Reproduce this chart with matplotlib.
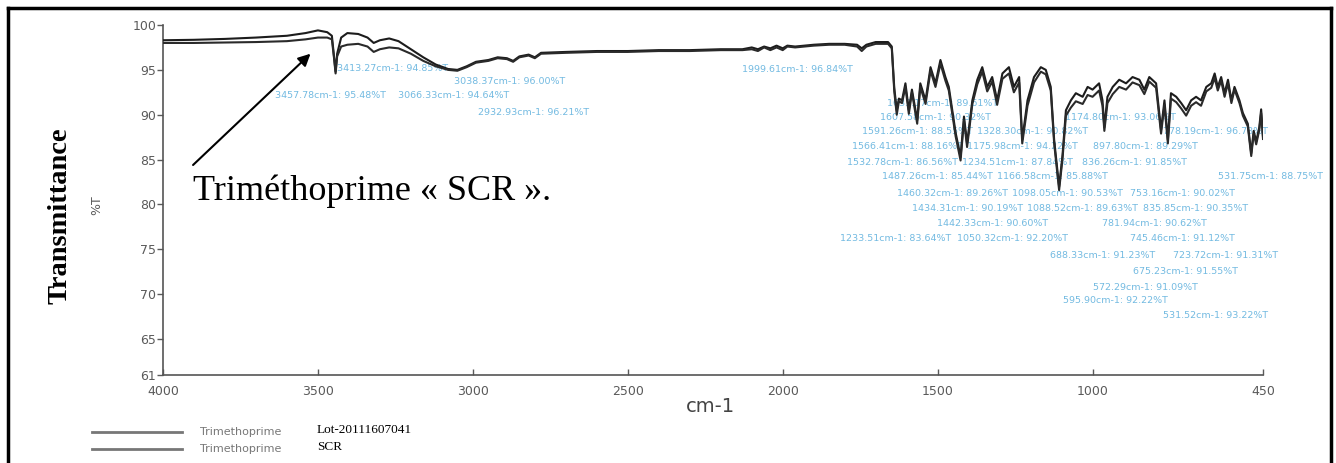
import matplotlib.pyplot as plt
from matplotlib.lines import Line2D

# IR spectra, wavenumber (cm-1) vs %T, both samples read at the same points
wavenumber = [
    4000, 3900, 3800, 3700, 3600, 3540, 3500, 3470, 3455, 3448, 3443, 3438,
    3425, 3405, 3370, 3340, 3320, 3300, 3270, 3240, 3200, 3160, 3120, 3080,
    3050, 3020, 2990, 2950, 2920, 2890, 2870, 2850, 2820, 2800, 2780, 2700,
    2600, 2500, 2400, 2300, 2200, 2130, 2100, 2080, 2060, 2040, 2020, 2000,
    1985, 1960, 1900, 1850, 1800, 1760, 1745, 1730, 1700, 1660, 1648, 1640,
    1632, 1625, 1615, 1604, 1593, 1583, 1566, 1556, 1539, 1523, 1507, 1491,
    1475, 1464, 1442, 1426, 1415, 1405, 1388, 1372, 1356, 1340, 1324, 1308,
    1291, 1270, 1254, 1237, 1227, 1210, 1189, 1167, 1151, 1135, 1124, 1108,
    1097, 1086, 1070, 1054, 1032, 1016, 1000, 979, 968, 962, 952, 935,
    914, 892, 871, 849, 833, 817, 795, 779, 768, 757, 747, 730,
    714, 698, 682, 666, 650, 633, 617, 606, 596, 585, 574, 563,
    552, 542, 526, 515, 499, 488, 480, 472, 462, 456, 450,
]
trans_lot = [
    98.3, 98.35, 98.45, 98.6, 98.8, 99.1, 99.4, 99.2, 98.8, 96.5, 94.8, 96.8,
    98.6, 99.1, 99.0, 98.6, 98.0, 98.3, 98.5, 98.2, 97.3, 96.4, 95.6, 95.1,
    95.0, 95.4, 95.9, 96.1, 96.4, 96.3, 96.0, 96.5, 96.7, 96.4, 96.9, 97.0,
    97.1, 97.1, 97.2, 97.2, 97.3, 97.3, 97.5, 97.3, 97.6, 97.4, 97.7, 97.4,
    97.7, 97.6, 97.8, 97.9, 97.9, 97.8, 97.4, 97.8, 98.1, 98.1, 97.6, 93.0,
    90.5, 91.8, 91.6, 93.5, 90.5, 92.8, 89.4, 93.5, 91.6, 95.3, 93.5, 96.1,
    94.2, 93.1, 88.0, 85.3, 89.8, 86.8, 91.6, 93.9, 95.3, 93.1, 94.2, 91.6,
    94.6, 95.3, 93.1, 94.2, 87.2, 91.6, 94.2, 95.3, 95.0, 93.1, 87.2, 82.0,
    85.5, 90.5, 91.6, 92.4, 92.0, 93.1, 92.8, 93.5, 91.6, 88.6, 92.0, 93.1,
    93.9, 93.5, 94.2, 93.9, 92.8, 94.2, 93.5, 88.3, 91.6, 87.2, 92.4, 92.0,
    91.3, 90.5, 91.6, 92.0, 91.6, 93.1, 93.5, 94.6, 93.1, 94.2, 92.4, 93.9,
    91.6, 93.1, 91.6, 90.2, 89.0, 85.7, 88.2, 87.0, 88.6, 90.6, 87.6,
]
trans_scr = [
    98.0, 98.0, 98.05, 98.1, 98.2, 98.4, 98.6, 98.6, 98.4, 96.3, 94.6, 96.5,
    97.6, 97.8, 97.9, 97.6, 97.0, 97.3, 97.5, 97.4, 96.8, 96.0, 95.4, 95.0,
    94.9, 95.3, 95.8, 96.0, 96.3, 96.2, 95.9, 96.4, 96.6, 96.3, 96.8, 96.9,
    97.0, 97.0, 97.1, 97.1, 97.2, 97.2, 97.3, 97.1, 97.5, 97.2, 97.5, 97.2,
    97.6, 97.5, 97.7, 97.8, 97.8, 97.6, 97.1, 97.6, 97.9, 97.9, 97.4, 92.6,
    90.0, 91.5, 91.3, 93.1, 90.1, 92.5, 89.0, 93.1, 91.2, 94.9, 93.1, 95.7,
    93.8, 92.7, 87.6, 84.9, 89.4, 86.4, 91.2, 93.4, 94.8, 92.6, 93.7, 91.1,
    94.0, 94.6, 92.5, 93.6, 86.8, 91.0, 93.6, 94.8, 94.5, 92.7, 86.8, 81.6,
    85.1, 89.9, 90.8, 91.5, 91.2, 92.2, 92.0, 92.7, 91.0, 88.2, 91.3, 92.3,
    93.1, 92.8, 93.6, 93.3, 92.3, 93.7, 93.0, 87.9, 91.1, 86.8, 91.8, 91.4,
    90.7, 89.9, 91.0, 91.4, 91.0, 92.6, 93.0, 94.1, 92.7, 93.8, 92.0, 93.5,
    91.3, 92.8, 91.3, 89.9, 88.7, 85.4, 87.9, 86.7, 88.3, 90.2, 87.3,
]

# peak-picking labels printed by the instrument software
peak_text = [
    "3413.27cm-1: 94.85%T", "3457.78cm-1: 95.48%T", "3066.33cm-1: 94.64%T",
    "3038.37cm-1: 96.00%T", "2932.93cm-1: 96.21%T", "1999.61cm-1: 96.84%T",
    "1633.17cm-1: 89.61%T", "1607.58cm-1: 90.32%T", "1174.80cm-1: 93.06%T",
    "1591.26cm-1: 88.55%T", "1328.30cm-1: 90.82%T", "778.19cm-1: 96.73%T",
    "1566.41cm-1: 88.16%T", "1175.98cm-1: 94.22%T", "897.80cm-1: 89.29%T",
    "1532.78cm-1: 86.56%T", "1234.51cm-1: 87.84%T", "836.26cm-1: 91.85%T",
    "1487.26cm-1: 85.44%T", "1166.58cm-1: 85.88%T", "531.75cm-1: 88.75%T",
    "1460.32cm-1: 89.26%T", "1098.05cm-1: 90.53%T", "753.16cm-1: 90.02%T",
    "1434.31cm-1: 90.19%T", "1088.52cm-1: 89.63%T", "835.85cm-1: 90.35%T",
    "1442.33cm-1: 90.60%T", "781.94cm-1: 90.62%T",
    "1233.51cm-1: 83.64%T", "1050.32cm-1: 92.20%T", "745.46cm-1: 91.12%T",
    "688.33cm-1: 91.23%T", "723.72cm-1: 91.31%T",
    "675.23cm-1: 91.55%T", "572.29cm-1: 91.09%T", "595.90cm-1: 92.22%T",
    "531.52cm-1: 93.22%T",
]
peak_text_wn = [
    3437, 3638, 3243,
    3062, 2984, 2133,
    1664, 1686, 1088,
    1744, 1372, 774,
    1777, 1405, 1000,
    1793, 1421, 1033,
    1680, 1308, 596,
    1631, 1259, 880,
    1583, 1211, 838,
    1502, 968,
    1816, 1437, 880,
    1139, 741,
    871, 1000, 1097,
    774,
]
peak_text_t = [
    95.2, 92.1, 92.1,
    93.65, 90.2, 95.0,
    91.2, 89.74, 89.74,
    88.18, 88.18, 88.18,
    86.51, 86.51, 86.51,
    84.73, 84.73, 84.73,
    83.17, 83.17, 83.17,
    81.27, 81.27, 81.27,
    79.6, 79.6, 79.6,
    77.93, 77.93,
    76.26, 76.26, 76.26,
    74.36, 74.36,
    72.58, 70.79, 69.34,
    67.67,
]

y_ticks = [100, 95, 90, 85, 80, 75, 70, 65, 61]
x_ticks = [4000, 3500, 3000, 2500, 2000, 1500, 1000, 450]

serif = ['Liberation Serif', 'DejaVu Serif']
grey = '#5a5a5a'
blue = '#5aaedc'

fig = plt.figure(figsize=(13.36, 4.63), dpi=100)
W, H = 1336, 463
ax = fig.add_axes([163 / W, 1 - 375 / H, 1100 / W, 350 / H])

for txt, wn, t in zip(peak_text, peak_text_wn, peak_text_t):
    ax.text(wn, t, txt, color=blue, fontsize=6.8, ha='left', va='center',
            zorder=1, clip_on=False, alpha=0.85)

ax.plot(wavenumber, trans_lot, color='#1c1c1c', lw=1.5, zorder=3)
ax.plot(wavenumber, trans_scr, color='#2a2a2a', lw=1.5, zorder=3)

ax.set_xlim(4000, 450)
ax.set_ylim(61, 100)
ax.set_xticks(x_ticks)
ax.set_yticks(y_ticks)
ax.tick_params(axis='both', colors=grey, labelsize=9, length=4, width=1)
ax.tick_params(axis='x', direction='in', pad=7)
ax.tick_params(axis='y', pad=1)
for side in ['top', 'right']:
    ax.spines[side].set_visible(False)
for side in ['left', 'bottom']:
    ax.spines[side].set_color('#555555')
    ax.spines[side].set_linewidth(1.2)
ax.patch.set_visible(False)

# callout pointing at the reference sample trace
ax.annotate('', xy=(3524, 96.8), xytext=(3903, 84.4),
            arrowprops=dict(arrowstyle='-|>', color='black', lw=1.5,
                            mutation_scale=18, shrinkA=0, shrinkB=0))
ax.text(3903, 80.5, 'Triméthoprime « SCR ».', family=serif, fontsize=26,
        ha='left', va='baseline', color='black', zorder=4)

fig.text(710 / W, 1 - 407 / H, 'cm-1', fontsize=14, color='#444444',
         ha='center', va='center')
fig.text(97 / W, 1 - 205 / H, '%T', fontsize=9, color=grey, rotation=90,
         ha='center', va='center')
fig.text(60 / W, 1 - 216 / H, 'Transmittance', family=serif, fontsize=20.5,
         fontweight='bold', rotation=90, ha='center', va='center')

# legend drawn by hand under the axis
for yp, lot in zip([432, 449], ['Lot-20111607041', 'SCR']):
    fig.add_artist(Line2D([92 / W, 182 / W], [1 - yp / H] * 2,
                          transform=fig.transFigure, color='#777777', lw=2))
    fig.text(200 / W, 1 - yp / H, 'Trimethoprime', fontsize=8, color='#777777',
             ha='left', va='center')
    fig.text(317 / W, 1 - (yp - 2) / H, lot, family=serif, fontsize=9.5,
             color='black', ha='left', va='center')

# outer frame
for xs, ys in [([8, 8], [8, H]), ([8, 1331], [8, 8]), ([1331, 1331], [8, H])]:
    fig.add_artist(Line2D([x / W for x in xs], [1 - y / H for y in ys],
                          transform=fig.transFigure, color='black', lw=2.5))

fig.savefig('out.png', dpi=100)
